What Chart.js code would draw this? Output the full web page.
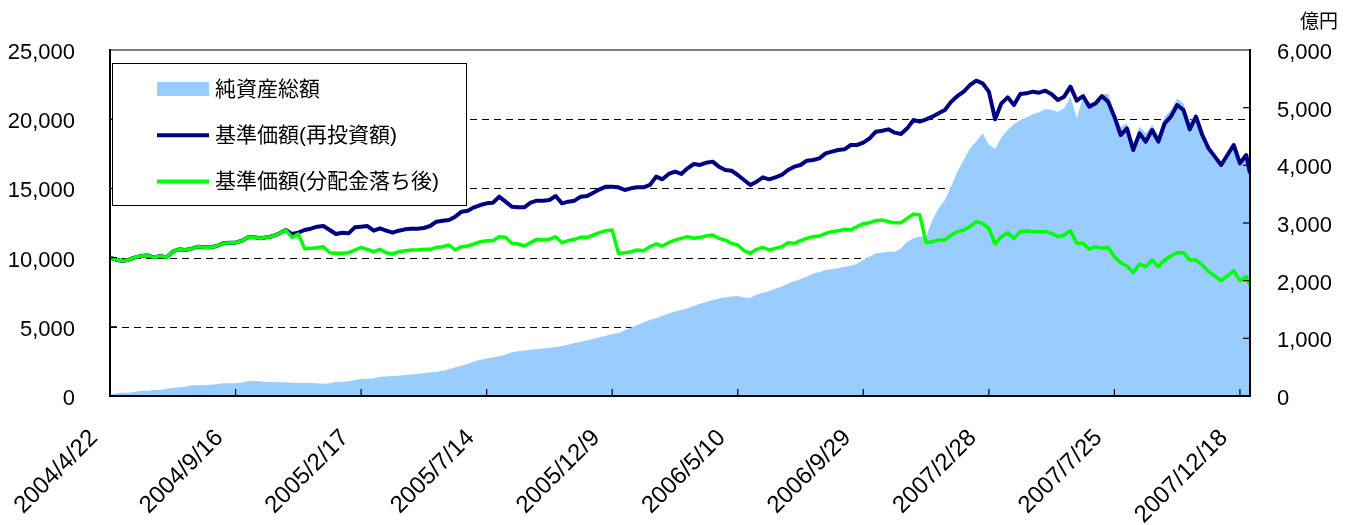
<!DOCTYPE html>
<html lang="ja">
<head>
  <meta charset="UTF-8" />
  <title>純資産総額と基準価額の推移</title>
  <script src="https://cdn.jsdelivr.net/npm/chart.js"></script>
  <style>
    html, body {
      margin: 0;
      background: #fff;
    }

    .chart-box {
      position: relative;
      width: 1351px;
      height: 525px;
    }
  </style>
</head>
<body>
  <div class="chart-box">
    <canvas id="fundChart"></canvas>
  </div>

  <script>
    // 目盛ラベル（100営業日ごと）
    const tickLabels = ['2004/4/22', '2004/9/16', '2005/2/17', '2005/7/14', '2005/12/9',
                        '2006/5/10', '2006/9/29', '2007/2/28', '2007/7/25', '2007/12/18'];
    const TICK_EVERY = 100; // 営業日
    const STEP = 5;         // 読み取り間隔（営業日）
    const LAST_DAY = 908;   // 最終データの営業日

    // 純資産総額（億円）
    const netAssets = [
      20, 46, 58, 58, 75, 92, 92, 104, 104, 127,
      139, 150, 162, 185, 185, 191, 197, 202, 220, 220,
      220, 231, 260, 260, 254, 243, 243, 237, 237, 231,
      231, 225, 225, 220, 214, 220, 243, 248, 254, 277,
      295, 300, 305, 335, 340, 345, 352, 365, 375, 381,
      395, 410, 422, 440, 462, 500, 525, 560, 600, 630,
      650, 670, 690, 720, 760, 775, 790, 800, 810, 825,
      835, 850, 867, 890, 920, 940, 965, 990, 1020, 1045,
      1075, 1090, 1140, 1190, 1230, 1280, 1320, 1350, 1390, 1430,
      1465, 1490, 1520, 1560, 1600, 1630, 1665, 1690, 1710, 1725,
      1734, 1710, 1700, 1760, 1790, 1820, 1860, 1900, 1950, 1990,
      2030, 2070, 2120, 2150, 2185, 2200, 2214, 2240, 2260, 2290,
      2358, 2416, 2474, 2485, 2503, 2503, 2561, 2677, 2735, 2764,
      2763, 3052, 3254, 3400, 3631, 3891, 4094, 4296, 4412, 4557,
      4355, 4286, 4481, 4614, 4712, 4788, 4828, 4885, 4920, 4978,
      4959, 4930, 4988, 5190, 4815, 5190, 5103, 5074, 5219, 5248,
      4900, 4670, 4730, 4325, 4670, 4554, 4700, 4525, 4843, 4959,
      5161, 5074, 4757, 4900, 4583, 4352, 4178, 4034, 4207, 4381,
      4063, 4207, 3920
    ];

    // 基準価額（再投資額）円
    const navReinvest = [
      10000, 9850, 9754, 9850, 10019, 10115, 10163, 10019, 10115, 10019,
      10430, 10597, 10549, 10645, 10790, 10742, 10742, 10838, 11031, 11079,
      11079, 11224, 11464, 11464, 11392, 11464, 11560, 11753, 11993, 11700,
      11800, 11993, 12090, 12235, 12283, 11993, 11705, 11801, 11753, 12187,
      12230, 12283, 11945, 12114, 11945, 11801, 11945, 12042, 12090, 12090,
      12138, 12283, 12596, 12668, 12716, 12957, 13318, 13391, 13632, 13800,
      13920, 13968, 14402, 14040, 13680, 13632, 13632, 13968, 14113, 14113,
      14161, 14450, 13920, 14040, 14113, 14402, 14450, 14691, 14932, 15125,
      15120, 15078, 14884, 15005, 15078, 15078, 15247, 15848, 15656, 16041,
      16210, 16041, 16451, 16764, 16691, 16860, 16933, 16571, 16330, 16282,
      15969, 15607, 15247, 15488, 15800, 15656, 15800, 15969, 16330, 16571,
      16691, 17004, 17052, 17173, 17534, 17654, 17775, 17823, 18136, 18136,
      18300, 18617, 19099, 19171, 19268, 19027, 18930, 19340, 19943, 19822,
      19990, 20183, 20424, 20665, 21267, 21676, 21989, 22471, 22784, 22592,
      21989, 20000, 21146, 21580, 21026, 21820, 21870, 21989, 21917, 22062,
      21800, 21387, 21628, 22351, 21339, 21676, 20906, 21146, 21676, 21267,
      20183, 18858, 19340, 17774, 18979, 18376, 19219, 18376, 19701, 20183,
      21026, 20665, 19268, 20183, 18858, 17895, 17293, 16691, 17413, 18136,
      16812, 17413, 16089
    ];

    // 基準価額（分配金落ち後）円
    const navAfterDiv = [
      10000, 9850, 9754, 9850, 10019, 10115, 10163, 10019, 10115, 10019,
      10430, 10597, 10549, 10645, 10790, 10742, 10742, 10838, 11031, 11079,
      11079, 11224, 11464, 11464, 11392, 11464, 11560, 11753, 11993, 11464,
      11705, 10645, 10669, 10718, 10790, 10356, 10308, 10308, 10356, 10549,
      10730, 10597, 10430, 10597, 10356, 10260, 10430, 10500, 10549, 10549,
      10597, 10597, 10742, 10790, 10910, 10549, 10790, 10838, 10982, 11151,
      11224, 11224, 11512, 11464, 11031, 10982, 10838, 11079, 11320, 11272,
      11320, 11512, 11079, 11224, 11320, 11464, 11464, 11632, 11801, 11945,
      11993, 10308, 10356, 10428, 10549, 10500, 10790, 10982, 10838, 11079,
      11272, 11392, 11512, 11392, 11464, 11560, 11632, 11392, 11272, 11031,
      10910, 10500, 10308, 10597, 10742, 10549, 10669, 10790, 11079, 11031,
      11224, 11392, 11512, 11560, 11753, 11873, 11945, 12042, 11993, 12235,
      12450, 12525, 12669, 12717, 12597, 12525, 12525, 12838, 13151, 13079,
      11079, 11151, 11272, 11272, 11632, 11873, 11993, 12235, 12597, 12477,
      12115, 11000, 11512, 11801, 11392, 11873, 11945, 11873, 11873, 11873,
      11753, 11512, 11632, 11945, 11031, 11031, 10597, 10790, 10669, 10741,
      10065, 9634, 9393, 8911, 9537, 9345, 9826, 9345, 9826, 10114,
      10355, 10355, 9826, 9826, 9465, 8984, 8670, 8334, 8670, 9056,
      8334, 8622, 8020
    ];

    const FONT = "'Liberation Sans', Arial, 'Noto Sans CJK JP', sans-serif";
    const fmt = v => v.toLocaleString('en-US');

    const dayOf = (i, n) => (i === n - 1 ? LAST_DAY : i * STEP);
    const toPoints = arr => arr.map((v, i) => ({ x: dayOf(i, arr.length), y: v }));

    // 破線の目盛線・内向きの目盛・凡例の枠
    const framePlugin = {
      id: 'frame',
      beforeDatasetsDraw(chart) {
        const { ctx, chartArea: a, scales: { y } } = chart;
        ctx.save();
        ctx.strokeStyle = '#000';
        ctx.lineWidth = 1;
        ctx.setLineDash([7, 5]);
        y.ticks.forEach(t => {
          if (t.value <= y.min || t.value >= y.max) return;
          const py = Math.round(y.getPixelForValue(t.value)) + 0.5;
          ctx.beginPath();
          ctx.moveTo(a.left, py);
          ctx.lineTo(a.right, py);
          ctx.stroke();
        });
        ctx.restore();
      },
      afterDatasetsDraw(chart) {
        const { ctx, chartArea: a, scales: { x, y, y2 } } = chart;
        ctx.save();

        // 上端の枠線
        ctx.strokeStyle = '#808080';
        ctx.lineWidth = 2;
        ctx.beginPath();
        ctx.moveTo(a.left, a.top);
        ctx.lineTo(a.right, a.top);
        ctx.stroke();

        // 内向きの目盛
        ctx.strokeStyle = '#000';
        ctx.lineWidth = 1.2;
        const len = 7;
        y.ticks.forEach(t => {
          if (t.value <= y.min || t.value >= y.max) return;
          const py = y.getPixelForValue(t.value);
          ctx.beginPath(); ctx.moveTo(a.left, py); ctx.lineTo(a.left + len, py); ctx.stroke();
        });
        y2.ticks.forEach(t => {
          if (t.value <= y2.min || t.value >= y2.max) return;
          const py = y2.getPixelForValue(t.value);
          ctx.beginPath(); ctx.moveTo(a.right, py); ctx.lineTo(a.right - len, py); ctx.stroke();
        });
        x.ticks.forEach(t => {
          if (t.value <= x.min) return;
          const px = x.getPixelForValue(t.value);
          ctx.beginPath(); ctx.moveTo(px, a.bottom); ctx.lineTo(px, a.bottom - len); ctx.stroke();
        });

        // 凡例
        const box = { x: a.left + 2, y: a.top + 13, w: 354, h: 142 };
        ctx.fillStyle = '#fff';
        ctx.fillRect(box.x, box.y, box.w, box.h);
        ctx.strokeStyle = '#000';
        ctx.lineWidth = 1;
        ctx.strokeRect(box.x + 0.5, box.y + 0.5, box.w, box.h);

        ctx.font = '21px ' + FONT;
        ctx.textBaseline = 'middle';
        ctx.textAlign = 'left';
        chart.data.datasets.forEach((ds, i) => {
          const cy = box.y + 26 + i * 46.3;
          if (ds.fill) {
            ctx.fillStyle = ds.backgroundColor;
            ctx.fillRect(box.x + 45, cy - 7, 52, 14);
          } else {
            ctx.strokeStyle = ds.borderColor;
            ctx.lineWidth = 4;
            ctx.beginPath();
            ctx.moveTo(box.x + 45, cy);
            ctx.lineTo(box.x + 97, cy);
            ctx.stroke();
          }
          ctx.fillStyle = '#000';
          ctx.fillText(ds.label, box.x + 103, cy + 1);
        });
        ctx.restore();
      },
      afterDraw(chart) {
        const { ctx } = chart;
        ctx.save();
        ctx.font = "19px 'Noto Sans CJK JP', sans-serif";
        ctx.fillStyle = '#000';
        ctx.textAlign = 'right';
        ctx.textBaseline = 'middle';
        ctx.fillText('億円', chart.width - 13, 21);
        ctx.restore();
      }
    };

    const ctx = document.getElementById('fundChart').getContext('2d');
    const fundChart = new Chart(ctx, {
      type: 'line',
      data: {
        datasets: [
          {
            label: '純資産総額',
            data: toPoints(netAssets),
            yAxisID: 'y2',
            fill: 'origin',
            backgroundColor: '#99CCFF',
            borderColor: '#99CCFF',
            borderWidth: 0,
            pointRadius: 0,
            order: 3
          },
          {
            label: '基準価額(再投資額)',
            data: toPoints(navReinvest),
            yAxisID: 'y',
            fill: false,
            borderColor: '#000080',
            borderWidth: 4,
            borderJoinStyle: 'round',
            pointRadius: 0,
            order: 2
          },
          {
            label: '基準価額(分配金落ち後)',
            data: toPoints(navAfterDiv),
            yAxisID: 'y',
            fill: false,
            borderColor: '#00FF00',
            borderWidth: 3.5,
            borderJoinStyle: 'round',
            pointRadius: 0,
            order: 1
          }
        ]
      },
      options: {
        responsive: true,
        maintainAspectRatio: false,
        animation: false,
        devicePixelRatio: 1,
        layout: { padding: { top: 50, left: 0, right: 0, bottom: 0 } },
        plugins: {
          legend: { display: false },
          tooltip: { enabled: false }
        },
        scales: {
          x: {
            type: 'linear',
            min: 0,
            max: LAST_DAY,
            afterBuildTicks: sc => {
              sc.ticks = tickLabels.map((_, i) => ({ value: i * TICK_EVERY }));
            },
            afterFit: sc => { sc.height = 129; },
            ticks: {
              autoSkip: false,
              minRotation: 45,
              maxRotation: 45,
              padding: 20,
              labelOffset: -16,
              color: '#000',
              font: { family: FONT, size: 24 },
              callback: v => tickLabels[Math.round(v / TICK_EVERY)]
            },
            grid: { display: false },
            border: { display: true, color: '#000', width: 2, z: 1 }
          },
          y: {
            position: 'left',
            min: 0,
            max: 25000,
            afterFit: sc => { sc.width = 110; },
            ticks: {
              stepSize: 5000,
              padding: 27,
              labelOffset: 3,
              color: '#000',
              font: { family: FONT, size: 22 },
              callback: v => fmt(v)
            },
            grid: { display: false },
            border: { display: true, color: '#000', width: 2, z: 1 }
          },
          y2: {
            position: 'right',
            min: 0,
            max: 6000,
            afterFit: sc => { sc.width = 101; },
            ticks: {
              stepSize: 1000,
              padding: 19,
              labelOffset: 3,
              color: '#000',
              font: { family: FONT, size: 22 },
              callback: v => fmt(v)
            },
            grid: { display: false },
            border: { display: true, color: '#000', width: 2, z: 1 }
          }
        }
      },
      plugins: [framePlugin]
    });
  </script>
</body>
</html>
